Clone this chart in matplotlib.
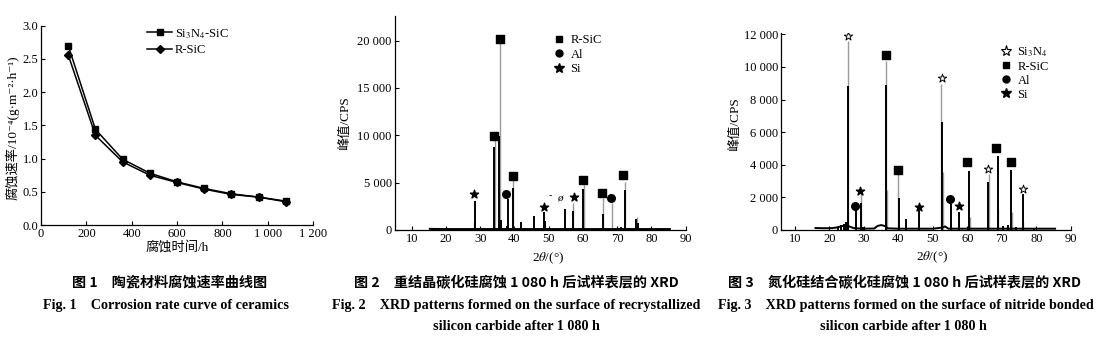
import matplotlib
matplotlib.use('Agg')
import matplotlib.pyplot as plt
from matplotlib.lines import Line2D
from matplotlib.ticker import FuncFormatter, MultipleLocator

plt.rcParams['font.family'] = ['Liberation Serif', 'Noto Sans CJK SC', 'DejaVu Sans']
plt.rcParams['mathtext.fontset'] = 'stix'

# ---------------- Fig.1 data: corrosion rate ----------------
time_h = [120, 240, 360, 480, 600, 720, 840, 960, 1080]
rate_si3n4_sic = [2.70, 1.44, 0.99, 0.78, 0.65, 0.55, 0.47, 0.42, 0.36]
rate_r_sic = [2.56, 1.35, 0.95, 0.75, 0.64, 0.54, 0.46, 0.42, 0.35]

# ---------------- Fig.2 data: XRD of R-SiC ----------------
r_black_pos = [28.4, 30.0, 34.1, 35.6, 36.0, 37.8, 38.2, 39.5, 41.9, 45.8, 48.6, 49.0, 50.1,
               54.9, 57.0, 60.1, 65.8, 70.5, 71.2, 72.2, 73.5, 75.6, 76.0, 15.8, 16.6]
r_black_int = [3100, 250, 8800, 9900, 1100, 400, 3300, 4400, 850, 1500, 1900, 900, 200,
               2200, 2000, 4300, 1700, 250, 350, 4200, 200, 1200, 700, 150, 150]
r_gray_pos = [28.3, 34.0, 34.2, 35.7, 36.1, 39.6, 57.1, 60.2, 65.9, 68.4, 72.3, 75.7]
r_gray_int = [800, 700, 9900, 20000, 500, 5300, 2900, 4800, 3400, 2800, 5100, 1400]
r_bg_x = [15.3, 17.0, 20.0, 30.0, 40.0, 50.0, 60.0, 70.0, 80.0, 85.4]
r_bg_y = [120, 110, 100, 100, 100, 100, 100, 100, 100, 100]
# phase identification marks (2theta, height of mark)
r_sic_mark_x = [33.9, 35.8, 39.6, 60.1, 65.6, 71.6]
r_sic_mark_y = [9900, 20150, 5750, 5300, 3900, 5800]
r_al_mark_x = [37.5, 68.2]
r_al_mark_y = [3770, 3420]
r_si_mark_x = [28.3, 48.7, 57.3]
r_si_mark_y = [3800, 2460, 3520]

# ---------------- Fig.3 data: XRD of nitride bonded SiC ----------------
n_black_pos = [25.5, 27.7, 29.3, 29.8, 36.5, 40.1, 42.2, 46.0, 52.5, 55.2, 57.5, 60.4,
               66.1, 68.8, 70.3, 71.8, 72.6, 74.0, 76.0, 79.3, 22.5, 23.5, 24.2, 24.8]
n_black_int = [8800, 1300, 1650, 200, 8900, 1950, 700, 1200, 6650, 1600, 1100, 3600,
               2950, 4550, 250, 300, 3700, 200, 2200, 150, 200, 300, 350, 500]
n_gray_pos = [25.4, 29.3, 36.4, 36.8, 40.0, 52.4, 52.9, 60.7, 65.9, 66.2, 69.0, 72.9, 76.2]
n_gray_int = [11600, 2200, 10350, 2450, 3450, 8950, 3550, 800, 700, 3450, 1300, 1100, 500]
n_bg_x = [16.0, 18.0, 20.0, 21.0, 22.0, 23.0, 24.0, 25.0, 26.0, 27.0, 28.0, 30.0, 33.0,
          34.0, 35.0, 36.0, 37.0, 40.0, 50.0, 52.8, 53.5, 54.5, 60.0, 70.0, 80.0, 85.4]
n_bg_y = [120, 110, 110, 120, 150, 200, 250, 280, 200, 120, 100, 80, 90,
          250, 300, 250, 100, 80, 80, 150, 220, 80, 80, 80, 80, 80]
n_si3n4_mark_x = [25.3, 52.5, 65.9, 76.0]
n_si3n4_mark_y = [11900, 9300, 3760, 2500]
n_sic_mark_x = [36.4, 40.0, 59.8, 68.3, 72.5]
n_sic_mark_y = [10740, 3700, 4150, 5020, 4150]
n_al_mark_x = [27.4, 55.1]
n_al_mark_y = [1500, 1870]
n_si_mark_x = [29.0, 46.0, 57.6]
n_si_mark_y = [2420, 1420, 1500]

TICK_FS = 9
LABEL_FS = 9.5
LEG_FS = 9


def thousands(v, pos):
    return f"{int(round(v)):,}".replace(',', ' ')


def style_axes(ax):
    for s in ('top', 'right'):
        ax.spines[s].set_visible(False)
    for s in ('left', 'bottom'):
        ax.spines[s].set_linewidth(0.9)
    ax.tick_params(direction='in', length=3, width=0.8, labelsize=TICK_FS, pad=2)


fig = plt.figure(figsize=(11, 3.5), dpi=100)

# ---------------- Panel 1 ----------------
ax1 = fig.add_axes([0.0373, 0.3571, 0.2473, 0.5694])
style_axes(ax1)
ax1.plot(time_h, rate_si3n4_sic, color='k', lw=1.1, marker='s', ms=4.5)
ax1.plot(time_h, rate_r_sic, color='k', lw=1.1, marker='D', ms=4)
ax1.set_xlim(0, 1200)
ax1.set_ylim(0, 3.0)
ax1.xaxis.set_major_locator(MultipleLocator(200))
ax1.yaxis.set_major_locator(MultipleLocator(0.5))
ax1.xaxis.set_major_formatter(FuncFormatter(thousands))
ax1.yaxis.set_major_formatter(FuncFormatter(lambda v, p: f"{v:.1f}"))
ax1.text(-0.107, 0.49, '腐蚀速率/10⁻⁴(g·m⁻²·h⁻¹)', transform=ax1.transAxes,
         rotation=90, ha='center', va='center', fontsize=LABEL_FS)
ax1.text(0.5, -0.118, '腐蚀时间/h', transform=ax1.transAxes,
         ha='center', va='center', fontsize=LABEL_FS)
h1 = [Line2D([], [], color='k', lw=1.1, marker='s', ms=4.5),
      Line2D([], [], color='k', lw=1.1, marker='D', ms=4)]
ax1.legend(h1, ['Si$_3$N$_4$-SiC', 'R-SiC'], loc='upper left', bbox_to_anchor=(0.39, 0.995),
           frameon=False, fontsize=LEG_FS, handlelength=2.0, handletextpad=0.2,
           labelspacing=0.3, borderaxespad=0, borderpad=0)

# ---------------- Panel 2 ----------------
ax2 = fig.add_axes([0.3587, 0.3429, 0.2646, 0.6114])
style_axes(ax2)
ax2.vlines(r_gray_pos, 0, r_gray_int, color='#9a9a9a', lw=1.0)
ax2.vlines(r_black_pos, 0, r_black_int, color='k', lw=1.4)
ax2.plot(r_bg_x, r_bg_y, color='k', lw=1.4)
ax2.scatter(r_sic_mark_x, r_sic_mark_y, marker='s', s=28, color='k', zorder=3)
ax2.scatter(r_al_mark_x, r_al_mark_y, marker='o', s=30, color='k', zorder=3)
ax2.scatter(r_si_mark_x, r_si_mark_y, marker='*', s=38, color='k', zorder=3)
ax2.text(50.5, 3590, '-', fontsize=7, ha='center', va='center')
ax2.text(53.3, 3310, 'ø', fontsize=8, ha='center', va='center', style='italic')
ax2.set_xlim(5, 90)
ax2.set_ylim(0, 22600)
ax2.xaxis.set_major_locator(MultipleLocator(10))
ax2.yaxis.set_major_locator(MultipleLocator(5000))
ax2.yaxis.set_major_formatter(FuncFormatter(thousands))
ax2.text(-0.17, 0.5, '峰值/CPS', transform=ax2.transAxes, rotation=90,
         ha='center', va='center', fontsize=LABEL_FS)
ax2.text(0.528, -0.13, '2$\\theta$/(°)', transform=ax2.transAxes,
         ha='center', va='center', fontsize=LABEL_FS)
h2 = [Line2D([], [], ls='none', marker='s', color='k', ms=5),
      Line2D([], [], ls='none', marker='o', color='k', ms=5),
      Line2D([], [], ls='none', marker='*', color='k', ms=7)]
ax2.legend(h2, ['R-SiC', 'Al', 'Si'], loc='upper left', bbox_to_anchor=(0.544, 0.915),
           frameon=False, fontsize=LEG_FS, handlelength=1.0, handletextpad=0.4,
           labelspacing=0.2, borderaxespad=0, borderpad=0)

# ---------------- Panel 3 ----------------
ax3 = fig.add_axes([0.71, 0.3429, 0.2636, 0.562])
style_axes(ax3)
ax3.vlines(n_gray_pos, 0, n_gray_int, color='#9a9a9a', lw=1.0)
ax3.vlines(n_black_pos, 0, n_black_int, color='k', lw=1.4)
ax3.plot(n_bg_x, n_bg_y, color='k', lw=1.4)
ax3.scatter(n_si3n4_mark_x, n_si3n4_mark_y, marker='*', s=40, facecolor='white',
            edgecolor='k', linewidths=0.7, zorder=3)
ax3.scatter(n_sic_mark_x, n_sic_mark_y, marker='s', s=28, color='k', zorder=3)
ax3.scatter(n_al_mark_x, n_al_mark_y, marker='o', s=30, color='k', zorder=3)
ax3.scatter(n_si_mark_x, n_si_mark_y, marker='*', s=38, color='k', zorder=3)
ax3.set_xlim(6, 90)
ax3.set_ylim(0, 12060)
ax3.xaxis.set_major_locator(MultipleLocator(10))
ax3.yaxis.set_major_locator(MultipleLocator(2000))
ax3.yaxis.set_major_formatter(FuncFormatter(thousands))
ax3.text(-0.158, 0.54, '峰值/CPS', transform=ax3.transAxes, rotation=90,
         ha='center', va='center', fontsize=LABEL_FS)
ax3.text(0.52, -0.14, '2$\\theta$/(°)', transform=ax3.transAxes,
         ha='center', va='center', fontsize=LABEL_FS)
h3 = [Line2D([], [], ls='none', marker='*', mfc='white', mec='k', mew=0.8, ms=8),
      Line2D([], [], ls='none', marker='s', color='k', ms=5),
      Line2D([], [], ls='none', marker='o', color='k', ms=5),
      Line2D([], [], ls='none', marker='*', color='k', ms=7)]
ax3.legend(h3, ['Si$_3$N$_4$', 'R-SiC', 'Al', 'Si'], loc='upper left',
           bbox_to_anchor=(0.755, 0.94), frameon=False, fontsize=LEG_FS,
           handlelength=1.0, handletextpad=0.4, labelspacing=0.15,
           borderaxespad=0, borderpad=0)

# ---------------- Captions ----------------
CN = ['Noto Sans CJK SC', 'DejaVu Sans']
EN_FS = 10.2
CN_FS = 10.2
y1, y2, y3 = 1 - 283 / 350, 1 - 305 / 350, 1 - 327 / 350
fig.text(170 / 1100, y1, '图 1　陶瓷材料腐蚀速率曲线图', ha='center', va='center',
         fontsize=CN_FS, family=CN, weight='bold')
fig.text(166 / 1100, y2, 'Fig. 1　Corrosion rate curve of ceramics', ha='center',
         va='center', fontsize=EN_FS, weight='bold')
fig.text(516 / 1100, y1, '图 2　重结晶碳化硅腐蚀 1 080 h 后试样表层的 XRD', ha='center',
         va='center', fontsize=CN_FS, family=CN, weight='bold')
fig.text(516 / 1100, y2, 'Fig. 2　XRD patterns formed on the surface of recrystallized',
         ha='center', va='center', fontsize=EN_FS, weight='bold')
fig.text(516 / 1100, y3, 'silicon carbide after 1 080 h', ha='center', va='center',
         fontsize=EN_FS, weight='bold')
fig.text(905 / 1100, y1, '图 3　氮化硅结合碳化硅腐蚀 1 080 h 后试样表层的 XRD', ha='center',
         va='center', fontsize=CN_FS, family=CN, weight='bold')
fig.text(906 / 1100, y2, 'Fig. 3　XRD patterns formed on the surface of nitride bonded',
         ha='center', va='center', fontsize=EN_FS, weight='bold')
fig.text(903 / 1100, y3, 'silicon carbide after 1 080 h', ha='center', va='center',
         fontsize=EN_FS, weight='bold')

fig.savefig('out.png', dpi=100)
